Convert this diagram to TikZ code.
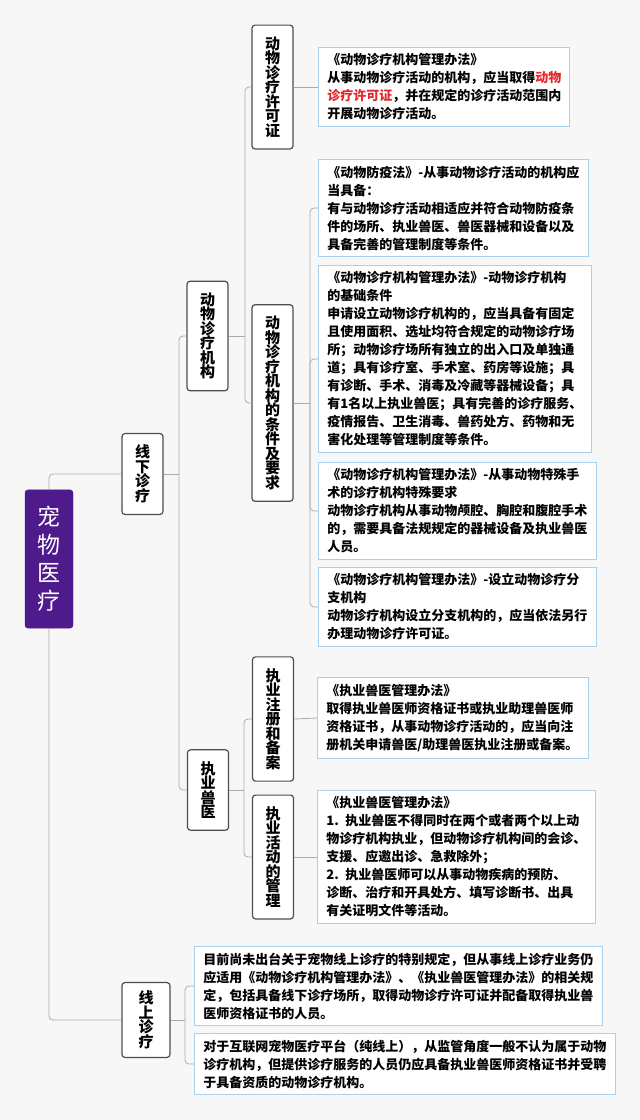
\documentclass[tikz,border=0pt]{standalone}
\usepackage{fontspec}
\setmainfont{Noto Sans CJK SC}
\usepackage{tikz}
\definecolor{bgcol}{HTML}{F7F7F7}
\definecolor{rootcol}{HTML}{4E1A8C}
\definecolor{edgecol}{HTML}{4D4D4D}
\definecolor{notecol}{HTML}{A9D1EE}
\definecolor{linkcol}{HTML}{ABABAB}
\definecolor{hlcol}{HTML}{E5262A}

\begin{document}
\begin{tikzpicture}[
		x=1pt,y=-1pt,
		rootbox/.style={
			draw=rootcol,
			fill=rootcol,
			rounded corners=3pt,
			text=white,
			font=\fontsize{23}{28}\selectfont,
			align=center,
			minimum width=48pt,
			inner ysep=16.5pt
		},
		topic/.style={
			draw=edgecol,
			fill=white,
			line width=1.2pt,
			rounded corners=3pt,
			font=\fontsize{15}{14.5}\selectfont\bfseries,
			align=center,
			minimum width=41pt,
			inner xsep=2pt,
			inner ysep=11.5pt
		},
		note/.style={
			draw=notecol,
			fill=white,
			line width=0.9pt,
			anchor=west,
			font=\fontsize{13}{18}\selectfont\bfseries,
			align=left,
			inner xsep=9pt,
			inner ysep=6.5pt
		},
		link/.style={
			draw=linkcol,
			line width=0.8pt,
			rounded corners=4pt
		}
		]
		\useasboundingbox[fill=bgcol] (0,0) rectangle (640,1120);
		% topics
		\node[rootbox] (root) at (49,559) {宠\\物\\医\\疗};
		\node[topic] (offline) at (142.5,474) {线\\下\\诊\\疗};
		\node[topic] (inst) at (207.5,336) {动\\物\\诊\\疗\\机\\构};
		\node[topic] (lic) at (272.5,87) {动\\物\\诊\\疗\\许\\可\\证};
		\node[topic] (cond) at (272.5,403) {动\\物\\诊\\疗\\机\\构\\的\\条\\件\\及\\要\\求};
		\node[topic] (vet) at (208,790) {执\\业\\兽\\医};
		\node[topic] (reg) at (273,719) {执\\业\\注\\册\\和\\备\\案};
		\node[topic] (act) at (273,857) {执\\业\\活\\动\\的\\管\\理};
		\node[topic,minimum width=48pt,inner ysep=8.5pt] (online) at (146,1020) {线\\上\\诊\\疗};
		% notes
		\node[note,text width=233pt] (licnote) at (318,87) {《动物诊疗机构管理办法》\\
			从事动物诊疗活动的机构，应当取得{\color{hlcol}动物}\\
			{\color{hlcol}诊疗许可证}，并在规定的诊疗活动范围内\\
			开展动物诊疗活动。};
		\node[note,text width=252pt] (law1) at (318,208) {《动物防疫法》-从事动物诊疗活动的机构应\\
			当具备：\\
			有与动物诊疗活动相适应并符合动物防疫条\\
			件的场所、执业兽医、兽医器械和设备以及\\
			具备完善的管理制度等条件。};
		\node[note,text width=255pt] (law2) at (318,359) {《动物诊疗机构管理办法》-动物诊疗机构\\
			的基础条件\\
			申请设立动物诊疗机构的，应当具备有固定\\
			且使用面积、选址均符合规定的动物诊疗场\\
			所；动物诊疗场所有独立的出入口及单独通\\
			道；具有诊疗室、手术室、药房等设施；具\\
			有诊断、手术、消毒及冷藏等器械设备；具\\
			有1名以上执业兽医；具有完善的诊疗服务、\\
			疫情报告、卫生消毒、兽药处方、药物和无\\
			害化处理等管理制度等条件。};
		\node[note,text width=260pt] (law3) at (318,511) {《动物诊疗机构管理办法》-从事动物特殊手\\
			术的诊疗机构特殊要求\\
			动物诊疗机构从事动物颅腔、胸腔和腹腔手术\\
			的，需要具备法规规定的器械设备及执业兽医\\
			人员。};
		\node[note,text width=260pt] (law4) at (318,607) {《动物诊疗机构管理办法》-设立动物诊疗分\\
			支机构\\
			动物诊疗机构设立分支机构的，应当依法另行\\
			办理动物诊疗许可证。};
		\node[note,text width=253pt] (regnote) at (317,718) {《执业兽医管理办法》\\
			取得执业兽医师资格证书或执业助理兽医师\\
			资格证书，从事动物诊疗活动的，应当向注\\
			册机关申请兽医/助理兽医执业注册或备案。};
		\node[note,text width=260pt] (actnote) at (317,857) {《执业兽医管理办法》\\
			1. 执业兽医不得同时在两个或者两个以上动\\
			物诊疗机构执业，但动物诊疗机构间的会诊、\\
			支援、应邀出诊、急救除外；\\
			2. 执业兽医师可以从事动物疾病的预防、\\
			诊断、治疗和开具处方、填写诊断书、出具\\
			有关证明文件等活动。};
		\node[note,text width=390pt] (on1) at (194,986) {目前尚未出台关于宠物线上诊疗的特别规定，但从事线上诊疗业务仍\\
			应适用《动物诊疗机构管理办法》、《执业兽医管理办法》的相关规\\
			定，包括具备线下诊疗场所，取得动物诊疗许可证并配备取得执业兽\\
			医师资格证书的人员。};
		\node[note,text width=403pt] (on2) at (194,1064) {对于互联网宠物医疗平台（纯线上），从监管角度一般不认为属于动物\\
			诊疗机构，但提供诊疗服务的人员仍应具备执业兽医师资格证书并受聘\\
			于具备资质的动物诊疗机构。};
		% trunks
		\coordinate (t1) at (179,474);
		\coordinate (t2) at (245,336);
		\coordinate (t3) at (310,403);
		\coordinate (t4) at (244,790);
		\coordinate (t5) at (185,1020);
		% root -> branches
		\draw[link] (root.north) |- (offline.west);
		\draw[link] (root.south) |- (online.west);
		% offline
		\draw[link] (offline.east) -- (t1);
		\foreach \n in {inst,vet}
			\draw[link] (\n.west) -| (t1);
		% institution
		\draw[link] (inst.east) -- (t2);
		\foreach \n in {lic,cond}
			\draw[link] (\n.west) -| (t2);
		\draw[link] (lic.east) -- (licnote.west);
		\draw[link] (cond.east) -- (t3);
		\foreach \n in {1,...,4}
			\draw[link] (law\n.west) -| (t3);
		% vet
		\draw[link] (vet.east) -- (t4);
		\foreach \n in {reg,act}
			\draw[link] (\n.west) -| (t4);
		\draw[link] (reg.east) -- (regnote.west);
		\draw[link] (act.east) -- (actnote.west);
		% online
		\draw[link] (online.east) -- (t5);
		\foreach \n in {on1,on2}
			\draw[link] (\n.west) -| (t5);
\end{tikzpicture}
\end{document}
